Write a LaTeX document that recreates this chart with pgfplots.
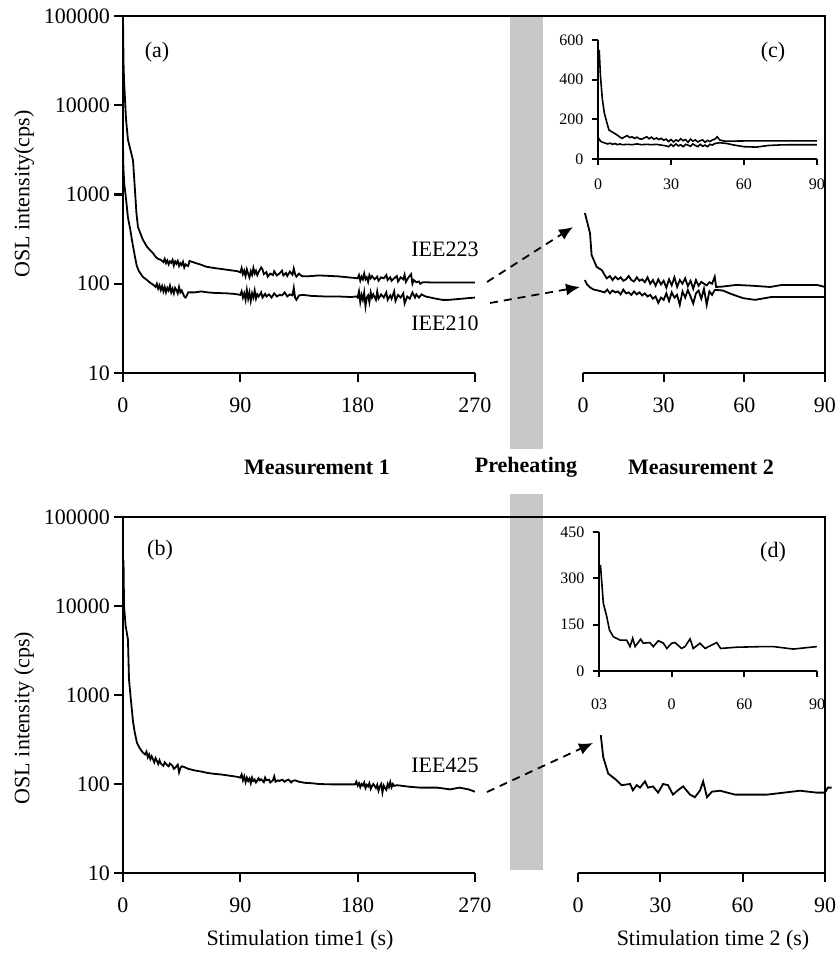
\documentclass[border=0pt]{standalone}
\usepackage{fontspec}
\setmainfont{Liberation Serif}
\usepackage{pgfplots}
\pgfplotsset{compat=1.18}
\usetikzlibrary{arrows.meta}
\definecolor{barg}{RGB}{200,200,202}

\pgfplotsset{
  mainax/.style={
    scale only axis, enlargelimits=false,
    tick align=outside,
    axis line style={line width=1.1pt},
    tick style={black, line width=1.1pt},
    major tick length=4.5pt,
    ticklabel style={font=\fontsize{11}{13}\selectfont},
    xticklabel style={yshift=-4.2pt},
    yticklabel style={xshift=1.5pt},
  },
  insetax/.style={
    scale only axis, enlargelimits=false,
    tick align=outside,
    axis line style={line width=1.1pt},
    tick style={black, line width=1.1pt},
    axis x line*=bottom, axis y line*=left,
    xmin=0, xmax=90, xtick={0,30,60,90},
    major tick length=3.2pt,
    ticklabel style={font=\fontsize{8}{9.5}\selectfont},
    yticklabel style={xshift=-0.6pt},
  },
  curve/.style={black, line width=0.9pt, no markers},
}

\begin{document}
\begin{tikzpicture}
\path[use as bounding box] (0,0) rectangle (418.5pt,476.5pt);

\begin{scope}[x=0.5pt, y=-0.5pt, yshift=476.5pt]
  \fill[barg] (510,16) rectangle (543,449);
  \fill[barg] (510,494) rectangle (543,870);
\end{scope}

% ===== (a) top-left =====
\begin{axis}[mainax, at={(61.5pt,290pt)}, anchor=south west,
  width=176pt, height=178.5pt,
  ymode=log, ymin=10, ymax=100000, yminorticks=false,
  axis x line*=bottom, axis y line*=left,
  xmin=0, xmax=270, xtick={0,90,180,270}, xticklabels={0,90,180,270},
  ytick={10,100,1000,10000,100000},
  yticklabels={10,100,1000,10000,100000}]
\addplot[curve] table {
0 95000
0.4 30000
0.8 19000
2.3 7000
3.8 4100
6.1 3000
7.7 2400
9.2 1100
10.3 620
11.5 430
15.3 310
18.4 260
21 235
23 221
25 200
27 190
29 185
31 175
32 190
33 170
34 182
35 165
36 178
37 172
38 185
39 160
40 178
41 168
42 180
43 158
44 170
45 162
46 176
47 152
48 165
49 160
50 158
51 180
53 176
56 170
60 163
64 155
70 150
76 146
82 142
88 138
90 134
91 150
92 128
93 140
94 122
95 145
96 130
97 118
98 138
99 126
100 150
101 130
102 140
103 125
104 135
106 152
107 145
108 128
110 135
111 120
113 130
115 125
116 138
118 124
120 130
122 140
123 124
125 132
126 122
128 137
130 126
131 148
132 128
133 120
135 130
137 122
140 121
145 122
150 124
155 123
160 122
165 121
170 119
175 117
178 116
180 115
181 125
182 108
183 120
184 112
185 130
186 112
187 118
188 105
189 125
190 115
191 122
193 112
195 120
196 108
198 118
200 115
202 125
203 110
205 118
206 108
208 115
210 122
211 106
213 118
215 112
216 126
217 105
219 118
221 128
222 100
223 110
225 104
227 106
228 100
230 104
233 104
237 103
250 103
270 103
};
\addplot[curve] table {
0 3700
0.3 2000
1.0 1300
2.3 900
3.8 550
5.4 420
7 300
9.2 200
10.5 160
12 140
15.3 119
18.4 110
21 102
23 98
25 92
26 100
27 88
28 96
29 85
30 94
31 82
32 92
33 80
34 90
35 84
36 95
37 80
38 88
39 78
40 90
41 85
42 78
43 92
44 80
45 84
46 78
47 72
48 70
49 74
50 80
52 80
55 80
60 82
65 80
70 79
80 78
85 77
88 76
90 75
91 82
92 70
93 78
94 66
95 85
96 68
97 80
98 64
99 78
100 70
101 84
102 68
103 76
104 72
106 80
107 70
109 77
110 72
112 76
114 70
116 78
118 72
120 75
122 74
124 80
126 72
128 76
130 74
131 90
132 70
133 66
135 74
138 75
145 73
155 72
165 72
175 71
179 72
180 70
181 82
182 62
183 75
184 66
185 80
186 56
187 70
188 74
189 62
190 80
191 70
192 76
194 66
195 82
196 68
198 76
200 70
202 80
203 66
205 74
206 68
208 82
209 64
211 75
213 70
215 78
216 60
218 72
220 68
222 80
224 70
225 76
227 70
229 76
232 72
236 70
240 68
245 66
250 66
255 67
260 68
265 69
270 70
};
\end{axis}

% ===== top-right main =====
\begin{axis}[mainax, at={(291.5pt,290pt)}, anchor=south west,
  width=121pt, height=178.5pt,
  ymode=log, ymin=10, ymax=100000, yminorticks=false,
  axis x line*=bottom, axis y line=none,
  xmin=0, xmax=90, xtick={0,30,60,90}, xticklabels={0,30,60,90}]
\addplot[curve] table {
0.7 620
1.5 500
2.6 370
3.2 210
5.1 154
7 142
8.8 115
10 122
11 110
12 120
13 112
14 118
15 108
16 112
17 122
18 110
19 106
20 118
21 108
22 112
23 104
24 118
25 100
26 110
27 95
28 112
29 98
30 108
31 90
32 112
33 96
34 118
35 92
36 110
37 100
38 115
39 94
40 108
41 88
42 110
43 95
44 105
45 100
46 96
47 104
48 100
49 120
49.5 92
52 93
57 97
63 95
69.6 92
74 97
80 97
87 97
90 92
};
\addplot[curve] table {
0.7 110
1.5 98
2.6 91
4 86
6.3 83
8 80
9 86
10 78
11 84
12 80
13 82
14 76
15 86
16 78
17 80
18 75
19 82
20 76
21 80
22 74
23 78
24 72
25 75
26 68
27 72
28 61
29 70
30 66
31 78
32 64
33 80
34 70
35 75
36 58
37 82
38 70
39 85
40 72
41 60
42 78
43 84
44 68
45 88
46 58
47 82
48 75
49 85
50 85
52 84
55 77
59.5 69
64 66
70 71
80 71
90 71
};
\end{axis}

% ===== inset (c) =====
\begin{axis}[insetax, at={(299pt,397pt)}, anchor=south west,
  width=109.5pt, height=59.5pt,
  xticklabels={0,30,60,90},
  ymin=0, ymax=600, ytick={0,200,400,600}, yticklabels={0,200,400,600},
  xticklabel style={yshift=-3.4pt}]
\addplot[curve, line width=0.8pt] table {
0.5 550
1 420
1.8 300
2.6 232
3.5 190
4.5 146
6 135
8 120
9 110
10 104
11 112
12 118
13 108
14 112
15 104
16 110
17 102
18 100
19 106
20 112
21 102
22 110
23 100
24 106
25 98
26 104
27 95
28 100
29 88
30 98
31 86
32 96
33 90
34 102
35 92
36 98
37 84
38 100
39 90
40 96
41 86
42 92
43 96
44 84
45 94
46 88
47 96
48 100
49 112
50 96
52 90
55 90
60 91
70 91
80 91
90 91
};
\addplot[curve, line width=0.8pt] table {
0.3 105
1 90
2 84
3 80
4 76
5 80
6 74
7 78
8 72
9 76
10 72
12 74
14 72
16 76
18 72
20 74
22 72
24 74
26 70
28 66
29 62
30 74
31 64
32 76
33 66
34 72
35 62
36 74
37 70
38 64
39 76
40 68
41 62
42 74
43 64
44 70
45 62
46 74
47 70
48 78
49 80
50 82
53 78
56 70
60 62
65 60
70 68
75 71
80 72
90 72
};
\end{axis}

% ===== (b) bottom-left =====
\begin{axis}[mainax, at={(61.5pt,40pt)}, anchor=south west,
  width=176pt, height=178pt,
  ymode=log, ymin=10, ymax=100000, yminorticks=false,
  axis x line*=bottom, axis y line*=left,
  xmin=0, xmax=270, xtick={0,90,180,270}, xticklabels={0,90,180,270},
  ytick={10,100,1000,10000,100000},
  yticklabels={10,100,1000,10000,100000}]
\addplot[curve] table {
0 9000
0.4 33000
0.8 10000
2 6000
3.8 4200
4.6 1500
6 900
7.7 500
9 380
10.7 290
13 250
15.3 225
17 215
18 230
19 200
20 215
21 190
22 205
24 175
25 195
26 182
27 168
28 185
29 170
31 160
32 175
34 162
35 158
36 170
38 160
39 148
40 152
42 165
43 135
44 150
45 158
47 155
50 148
55 142
60 138
65 133
70 130
75 128
80 125
85 122
88 120
90 118
91 128
92 110
93 122
94 105
95 118
96 108
97 115
98 102
99 118
100 108
101 112
102 104
104 116
105 110
106 113
108 105
109 118
110 110
112 112
113 104
115 110
116 122
117 106
119 110
120 108
122 112
124 106
125 109
127 112
129 104
130 108
132 110
135 106
138 104
140 103
145 102
150 100
160 99
178 99
179 106
180 96
181 102
182 92
183 100
184 96
185 104
186 90
187 98
188 94
189 102
190 88
191 95
192 100
194 90
195 98
196 84
197 94
198 100
199 80
200 96
201 90
202 86
203 100
204 92
205 105
206 92
207 100
208 95
210 97
215 95
220 93
228 91
241 91
251 87
258 91
265 87
270 82
};
\end{axis}

% ===== bottom-right main =====
\begin{axis}[mainax, at={(289pt,40pt)}, anchor=south west,
  width=123.5pt, height=178pt,
  ymode=log, ymin=10, ymax=100000, yminorticks=false,
  axis x line*=bottom, axis y line=none, clip=false,
  xmin=0, xmax=90, xtick={0,30,60,90}, xticklabels={0,30,60,90}]
\addplot[curve] table {
8.3 355
9.2 200
11 131
14.1 110
15.9 97
19 100
20 85
21.4 97
22.6 91
24.4 107
25.5 91
27.3 94
29.2 80
31 100
32.8 97
34.6 76
36.4 85
38.3 94
40.8 76
42.6 71
44.5 85
45.6 107
47 71
48.8 82
51.8 84
57.2 76
68.9 76
80.9 84
87 80
90 80
91 91
92.4 91
};
\end{axis}

% ===== inset (d) =====
\begin{axis}[insetax, at={(299.5pt,141pt)}, anchor=south west,
  width=109pt, height=69.5pt,
  ymin=0, ymax=450, ytick={0,150,300,450}, yticklabels={0,150,300,450},
  xticklabels={03,0,60,90},
  xticklabel style={yshift=-7.4pt}]
\addplot[curve, line width=0.8pt] table {
0.6 343
1.8 219
3.2 176
4.3 133
5.9 111
8.7 100
11.4 100
12.8 79
13.9 106
14.9 79
17.2 103
18.3 90
21 92
22.4 79
24.5 98
26.6 90
28 73
30 90
31.4 92
34.1 73
35.5 79
37.6 104
38.9 73
41.7 90
43.8 73
45.8 81
48.6 92
50.2 73
56.8 77
67.8 79
72 79
80.2 71
89.9 79
};
\end{axis}

% ===== frames, labels, arrows =====
\begin{scope}[x=0.5pt, y=-0.5pt, yshift=476.5pt]
  \draw[line width=1.1pt] (123,16) -- (825,16) -- (825,373);
  \draw[line width=1.1pt] (123,517) -- (825,517) -- (825,873);

  \node[font=\fontsize{11}{13}\selectfont] at (157,52) {(a)};
  \node[font=\fontsize{11}{13}\selectfont] at (160,550) {(b)};
  \node[font=\fontsize{11}{13}\selectfont] at (773,52) {(c)};
  \node[font=\fontsize{11}{13}\selectfont] at (773,552) {(d)};

  \node[font=\fontsize{11}{13}\selectfont] at (445,249) {IEE223};
  \node[font=\fontsize{11}{13}\selectfont] at (445,323) {IEE210};
  \node[font=\fontsize{11}{13}\selectfont] at (445,765) {IEE425};

  \node[font=\fontsize{11}{13}\selectfont\bfseries] at (317,467) {Measurement 1};
  \node[font=\fontsize{11}{13}\selectfont\bfseries] at (526,467) {Preheating};
  \node[font=\fontsize{11}{13}\selectfont\bfseries] at (701,467) {Measurement 2};

  \node[font=\fontsize{11}{13}\selectfont, rotate=90] at (24,194) {OSL intensity(cps)};
  \node[font=\fontsize{11}{13}\selectfont, rotate=90] at (24,718) {OSL intensity (cps)};

  \node[font=\fontsize{11}{13}\selectfont] at (300,940) {Stimulation time1 (s)};
  \node[font=\fontsize{11}{13}\selectfont] at (713,940) {Stimulation time 2 (s)};

  \draw[line width=0.9pt, dash pattern=on 4pt off 3pt, -{Latex[length=7pt,width=6pt]}] (487,282) -- (573,227);
  \draw[line width=0.9pt, dash pattern=on 4pt off 3pt, -{Latex[length=7pt,width=6pt]}] (490,303) -- (580,287);
  \draw[line width=0.9pt, dash pattern=on 4pt off 3pt, -{Latex[length=7pt,width=6pt]}] (487,792) -- (593,743);
\end{scope}
\end{tikzpicture}
\end{document}
